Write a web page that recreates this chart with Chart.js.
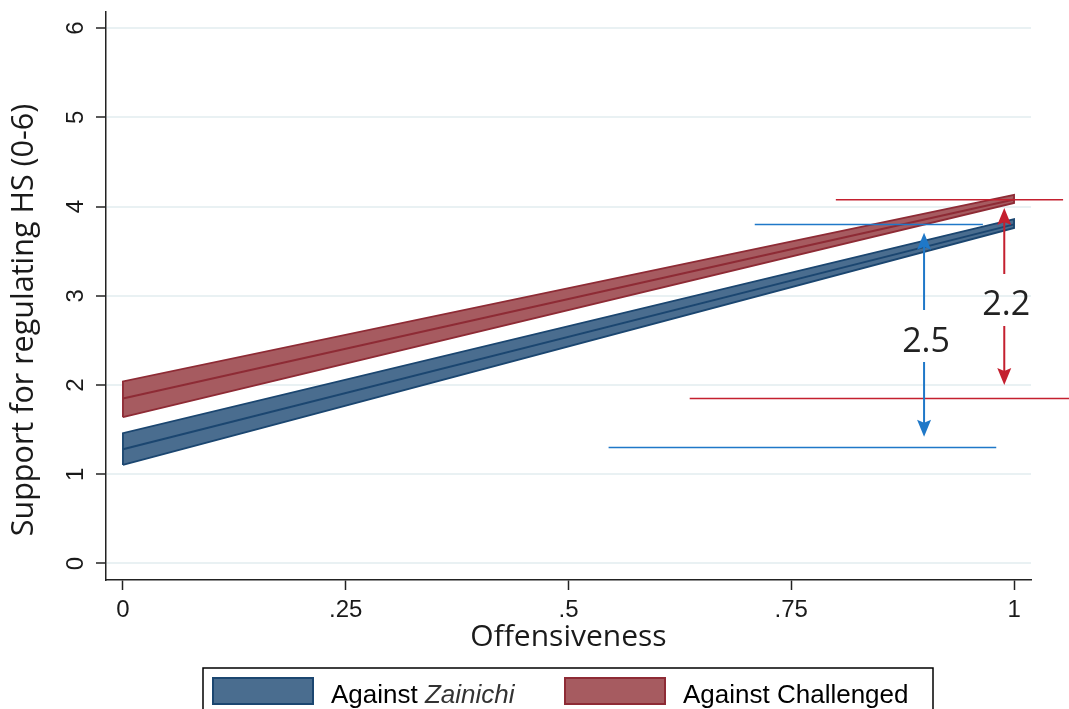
<!DOCTYPE html>
<html><head><meta charset="utf-8">
<script src="https://cdn.jsdelivr.net/npm/chart.js@4.4.0/dist/chart.umd.min.js"></script>
<style>html,body{margin:0;padding:0;background:#fff;}canvas{display:block;}</style>
</head><body>
<canvas id="c" width="1069" height="709"></canvas>
<script>
// ---- data ----
const xTicks = [0, 0.25, 0.5, 0.75, 1];
const xTickLabels = ['0', '.25', '.5', '.75', '1'];
const yTicks = [0, 1, 2, 3, 4, 5, 6];
const yTickLabels = ['0', '1', '2', '3', '4', '5', '6'];
const offensiveness = [0, 1];
const zainichiFit = [1.28, 3.80];
const zainichiLower = [1.105, 3.76];
const zainichiUpper = [1.46, 3.86];
const challengedFit = [1.85, 4.08];
const challengedLower = [1.64, 4.04];
const challengedUpper = [2.04, 4.13];
const legendNormal = ['Against ', 'Against Challenged'];
const legendItalic = ['Zainichi', ''];
// reference lines: [zainichi high, zainichi low, challenged high, challenged low]
const refY = [3.80, 1.30, 4.075, 1.85];
const refXStart = [0.709, 0.545, 0.80, 0.636];
const refXEnd = [0.965, 0.98, 1.055, 1.08];
// gap arrows
const gapLabels = ['2.5', '2.2'];
const gapX = [0.899, 0.989];
const gapTop = [3.705, 3.985];
const gapBottom = [1.42, 2.00];
const gapTextY = [2.515, 2.92];

// ---- styles ----
const BLUE_FILL = '#4a6d8f', BLUE_LINE = '#1b4670';
const RED_FILL = '#a65b60', RED_LINE = '#8e2b35';
const REF_BLUE = '#1f78c8', REF_RED = '#c4202f';
const refColors = [REF_BLUE, REF_BLUE, REF_RED, REF_RED];
const arrowColors = [REF_BLUE, REF_RED];
const TEXT = '#1a1a1a';

function band(lo, hi) {
  return [
    {x: offensiveness[0], y: lo[0]}, {x: offensiveness[1], y: lo[1]},
    {x: offensiveness[1], y: hi[1]}, {x: offensiveness[0], y: hi[0]},
    {x: offensiveness[0], y: lo[0]}
  ];
}
function line(vals) { return offensiveness.map((x, i) => ({x, y: vals[i]})); }

const datasets = [];
refY.forEach((v, i) => datasets.push({
  label: 'ref' + i, data: [{x: refXStart[i], y: v}, {x: refXEnd[i], y: v}],
  borderColor: refColors[i], borderWidth: 1.5, pointRadius: 0, fill: false, clip: false, order: 0
}));
datasets.push({label: 'fitZ', data: line(zainichiFit), borderColor: BLUE_LINE, borderWidth: 2, pointRadius: 0, fill: false, order: 1});
datasets.push({label: 'fitC', data: line(challengedFit), borderColor: RED_LINE, borderWidth: 2, pointRadius: 0, fill: false, order: 1});
datasets.push({label: 'Against Zainichi', data: band(zainichiLower, zainichiUpper), borderColor: BLUE_LINE, backgroundColor: BLUE_FILL, borderWidth: 1.8, pointRadius: 0, fill: 'shape', order: 2});
datasets.push({label: 'Against Challenged', data: band(challengedLower, challengedUpper), borderColor: RED_LINE, backgroundColor: RED_FILL, borderWidth: 1.8, pointRadius: 0, fill: 'shape', order: 2});

const overlay = {
  id: 'overlay',
  afterDatasetsDraw(chart) {
    const {ctx, scales: {x, y}} = chart;
    gapLabels.forEach((lab, i) => {
      const px = x.getPixelForValue(gapX[i]);
      const yt = y.getPixelForValue(gapTop[i]);
      const yb = y.getPixelForValue(gapBottom[i]);
      const yc = y.getPixelForValue(gapTextY[i]);
      ctx.save();
      ctx.strokeStyle = arrowColors[i]; ctx.fillStyle = arrowColors[i]; ctx.lineWidth = 2;
      ctx.beginPath(); ctx.moveTo(px, yt + 12); ctx.lineTo(px, yc - 29);
      ctx.moveTo(px, yc + 23); ctx.lineTo(px, yb - 12); ctx.stroke();
      ctx.beginPath(); ctx.moveTo(px, yt); ctx.lineTo(px - 7, yt + 17); ctx.lineTo(px, yt + 14); ctx.lineTo(px + 7, yt + 17); ctx.closePath(); ctx.fill();
      ctx.beginPath(); ctx.moveTo(px, yb); ctx.lineTo(px - 7, yb - 17); ctx.lineTo(px, yb - 14); ctx.lineTo(px + 7, yb - 17); ctx.closePath(); ctx.fill();
      ctx.fillStyle = '#222';
      ctx.font = '34px "Open Sans"'; ctx.textAlign = 'center'; ctx.textBaseline = 'alphabetic';
      ctx.fillText(lab, px + 2, yc + 12.5);
      ctx.restore();
    });
  },
  afterDraw(chart) {
    const {ctx, scales: {y}} = chart;
    ctx.save();
    // y tick labels (rotated)
    ctx.fillStyle = TEXT; ctx.font = '24px "Liberation Sans"';
    ctx.textAlign = 'center'; ctx.textBaseline = 'alphabetic';
    yTicks.forEach((v, i) => {
      ctx.save(); ctx.translate(83, y.getPixelForValue(v)); ctx.rotate(-Math.PI / 2);
      ctx.fillText(yTickLabels[i], 0, 0); ctx.restore();
    });
    // y title
    ctx.save(); ctx.font = '30.5px "Open Sans"'; ctx.translate(33, 320); ctx.rotate(-Math.PI / 2);
    ctx.fillText('Support for regulating HS (0-6)', 0, 0); ctx.restore();
    // legend
    ctx.lineWidth = 1.5; ctx.strokeStyle = '#000';
    ctx.strokeRect(203, 668, 730, 60);
    const sw = [[213, BLUE_FILL, BLUE_LINE], [565, RED_FILL, RED_LINE]];
    const tx = [331, 683];
    sw.forEach((s, i) => {
      ctx.fillStyle = s[1]; ctx.fillRect(s[0], 678, 100, 26);
      ctx.strokeStyle = s[2]; ctx.lineWidth = 2; ctx.strokeRect(s[0], 678, 100, 26);
      ctx.fillStyle = '#000'; ctx.textAlign = 'left'; ctx.textBaseline = 'alphabetic';
      ctx.font = '26px "Liberation Sans"';
      ctx.fillText(legendNormal[i], tx[i], 703);
      const w = ctx.measureText(legendNormal[i]).width;
      if (legendItalic[i]) {
        ctx.font = 'italic 26px "Liberation Sans"'; ctx.fillStyle = '#333';
        ctx.fillText(legendItalic[i], tx[i] + w, 703);
      }
    });
    ctx.restore();
  }
};

new Chart(document.getElementById('c'), {
  type: 'line',
  data: {datasets},
  options: {
    responsive: false, animation: false, devicePixelRatio: 1,
    layout: {padding: {left: 0, top: 12, right: 38, bottom: 0}},
    plugins: {legend: {display: false}, tooltip: {enabled: false}},
    elements: {line: {tension: 0}},
    scales: {
      x: {
        type: 'linear', min: -0.019, max: 1.019,
        afterBuildTicks: s => { s.ticks = xTicks.map(v => ({value: v})); },
        afterFit: s => { s.height = 129; },
        ticks: {callback: (v) => xTickLabels[xTicks.indexOf(v)], color: TEXT, font: {family: 'Liberation Sans', size: 24}, padding: 6, maxRotation: 0, autoSkip: false},
        grid: {drawOnChartArea: false, drawTicks: true, tickLength: 10, tickColor: '#222', tickWidth: 1.5},
        border: {display: true, color: '#222', width: 1.5},
        title: {display: true, text: 'Offensiveness', color: TEXT, font: {family: 'Open Sans', size: 30}, padding: {top: 0, bottom: 54}}
      },
      y: {
        type: 'linear', min: -0.185, max: 6.18,
        afterBuildTicks: s => { s.ticks = yTicks.map(v => ({value: v})); },
        afterFit: s => { s.width = 106; },
        ticks: {display: false},
        grid: {color: '#e9f1f3', lineWidth: 2, drawTicks: true, tickLength: 10, tickColor: '#222', tickWidth: 1.5},
        border: {display: true, color: '#222', width: 1.5}
      }
    }
  },
  plugins: [overlay]
});
</script>
</body></html>
